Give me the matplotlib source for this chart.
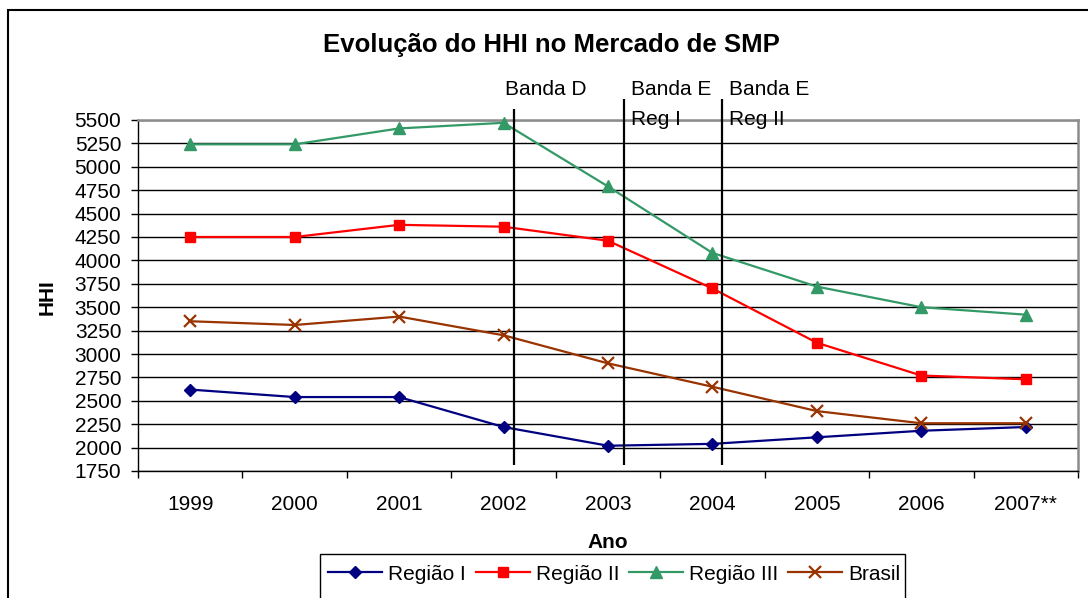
import matplotlib.pyplot as plt
from matplotlib.patches import Rectangle
import numpy as np

plt.rcParams["font.family"] = ["Liberation Sans", "DejaVu Sans"]

# data
anos = ["1999", "2000", "2001", "2002", "2003", "2004", "2005", "2006", "2007**"]
regiao_1 = [2620, 2540, 2540, 2220, 2020, 2040, 2110, 2180, 2220]
regiao_2 = [4250, 4250, 4380, 4360, 4210, 3700, 3120, 2770, 2730]
regiao_3 = [5240, 5240, 5410, 5470, 4790, 4080, 3720, 3500, 3420]
brasil = [3350, 3310, 3400, 3200, 2900, 2650, 2390, 2260, 2260]

W, H = 1088, 598
FS = 15


def fx(px):
    return px / W


def fy(py):
    return 1 - py / H


fig = plt.figure(figsize=(W / 100, H / 100), dpi=100)
ax = fig.add_axes([fx(138), fy(471), fx(1078) - fx(138), fy(120) - fy(471)])

x = np.arange(len(anos))
series = [
    ("Região I", regiao_1, "#000080", "D", 6.5, 1.0),
    ("Região II", regiao_2, "#FF0000", "s", 7, 1.0),
    ("Região III", regiao_3, "#339966", "^", 8, 1.0),
    ("Brasil", brasil, "#993300", "x", 9, 1.6),
]
handles = []
for name, vals, c, m, ms, mew in series:
    (h,) = ax.plot(x, vals, color=c, marker=m, markersize=ms, markeredgewidth=mew,
                   linewidth=1.6, label=name, zorder=3, clip_on=False)
    handles.append(h)

ax.set_xlim(-0.5, len(anos) - 0.5)
ax.set_ylim(1750, 5500)
ax.set_yticks(np.arange(1750, 5501, 250))
ax.tick_params(axis="y", labelsize=FS, length=5, width=1, pad=7)
ax.yaxis.grid(True, color="black", linewidth=1.0)
ax.set_axisbelow(True)

# category labels centered, ticks on boundaries
ax.set_xticks(np.arange(-0.5, len(anos), 1.0))
ax.set_xticklabels([])
ax.set_xticks(x, minor=True)
ax.set_xticklabels(anos, minor=True)
ax.tick_params(axis="x", which="major", length=5, width=1)
ax.tick_params(axis="x", which="minor", length=0, labelsize=FS, pad=17)

for s in ["left", "bottom"]:
    ax.spines[s].set_color("black")
    ax.spines[s].set_linewidth(1.0)
for s in ["top", "right"]:
    ax.spines[s].set_color("#8c8c8c")
    ax.spines[s].set_linewidth(1.8)
for sp in ax.spines.values():
    sp.set_zorder(2.5)

# band markers
ax.vlines(3.10, 1814, 5617, color="black", linewidth=1.6, clip_on=False, zorder=4)
ax.vlines([4.15, 5.09], 1814, 5724, color="black", linewidth=1.6, clip_on=False, zorder=4)
ax.text(3.01, 5831, "Banda D", fontsize=FS, va="center", ha="left")
ax.text(4.22, 5831, "Banda E", fontsize=FS, va="center", ha="left")
ax.text(4.22, 5500, "Reg I", fontsize=FS, va="center", ha="left")
ax.text(5.16, 5831, "Banda E", fontsize=FS, va="center", ha="left")
ax.text(5.16, 5500, "Reg II", fontsize=FS, va="center", ha="left")

fig.text(fx(551), fy(45), "Evolução do HHI no Mercado de SMP", fontsize=18.5,
         fontweight="bold", ha="center", va="center")
fig.text(fx(47), fy(297), "HHI", fontsize=FS, fontweight="bold", rotation=90,
         ha="center", va="center")
fig.text(fx(608), fy(543), "Ano", fontsize=FS, fontweight="bold",
         ha="center", va="center")

fig.legend(handles=handles, loc="center left", bbox_to_anchor=(fx(328), fy(574)),
           ncol=4, frameon=False, fontsize=FS, borderpad=0, borderaxespad=0,
           handlelength=2.6, handletextpad=0.3, columnspacing=0.45)

# legend box and chart border run past the bottom edge
fig.add_artist(Rectangle((fx(320), -0.1), fx(905) - fx(320), fy(554) + 0.1,
                         transform=fig.transFigure, fill=False,
                         edgecolor="black", linewidth=1.0))
fig.add_artist(Rectangle((fx(8), -0.1), 1.2, fy(10) + 0.1,
                         transform=fig.transFigure, fill=False,
                         edgecolor="black", linewidth=1.5))

fig.savefig("out.png", dpi=100)
